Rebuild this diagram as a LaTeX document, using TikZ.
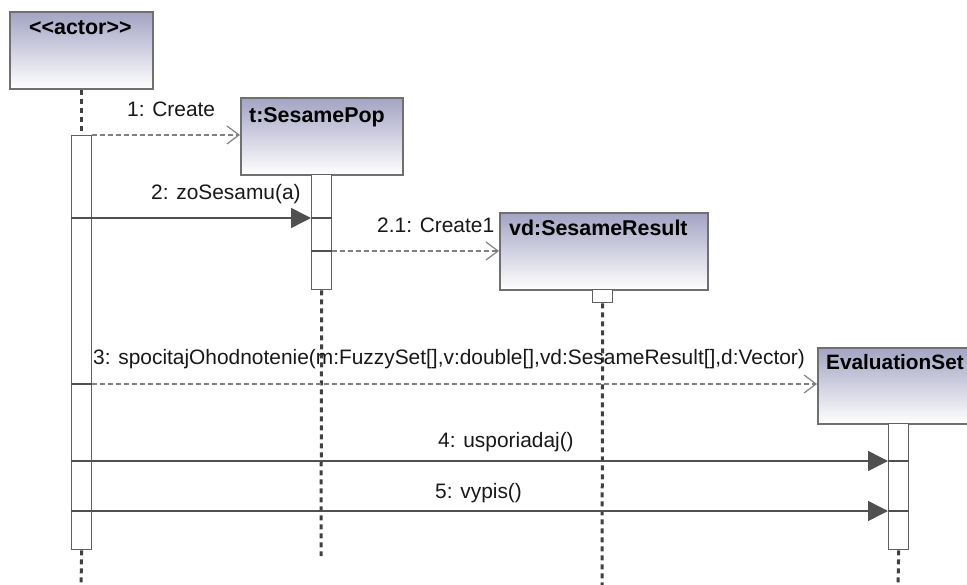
\documentclass[tikz,border=0pt]{standalone}
\usepackage{fontspec}
\setmainfont{Liberation Sans}
\usetikzlibrary{arrows.meta}

\definecolor{boxtop}{RGB}{163,163,196}
\definecolor{boxgray}{RGB}{112,112,112}
\definecolor{bargray}{RGB}{96,96,96}
\definecolor{lifegray}{RGB}{64,64,64}
\definecolor{msggray}{RGB}{80,80,80}
\definecolor{dashgray}{RGB}{128,128,128}
\definecolor{txtgray}{RGB}{24,24,24}

\begin{document}
\begin{tikzpicture}[x=1pt,y=-1pt,
  objbox/.style={draw=boxgray, line width=1.6pt, top color=boxtop, bottom color=white,
                 rectangle, inner sep=0pt, anchor=north west},
  objname/.style={anchor=base west, inner sep=0pt, text=black,
                  font=\fontsize{21.4}{26}\selectfont\bfseries},
  actbar/.style={draw=bargray, line width=1.4pt, fill=white, rectangle, inner sep=0pt,
                 anchor=north west, minimum width=20pt},
  lifeline/.style={draw=lifegray, line width=3pt, dash pattern=on 5pt off 4pt},
  divider/.style={draw=msggray, line width=1.5pt},
  syncmsg/.style={draw=msggray, line width=1.5pt, -{Triangle[length=20pt,width=20pt]}},
  createmsg/.style={draw=dashgray, line width=1.3pt, dash pattern=on 5pt off 3pt,
                    -{Straight Barb[length=12pt,width=18pt,line width=1.2pt]}},
  msglabel/.style={anchor=base west, inner sep=0pt, text=txtgray,
                   font=\fontsize{20.9}{25}\selectfont}]

\useasboundingbox (0,0) rectangle (967,585);
\clip (0,0) rectangle (967,585);

% object boxes
\node[objbox, minimum width=143pt, minimum height=77pt] (actor) at (9,11) {};
\node[objbox, minimum width=162pt, minimum height=77pt] (sp) at (240,97) {};
\node[objbox, minimum width=208pt, minimum height=77pt] (vd) at (499,212) {};
\node[objbox, minimum width=162pt, minimum height=76pt] (ev) at (817,347) {};

% the kerns keep << and >> from turning into guillemets
\node[objname] (actorlbl) at (29,35) {<\kern0pt<actor>\kern0pt>};
\node[objname] (splbl) at (249,123) {t:SesamePop};
\node[objname] (vdlbl) at (509,236) {vd:SesameResult};
\node[objname, font=\fontsize{20.8}{25}\selectfont\bfseries] (evlbl) at (826,370) {EvaluationSet};

% lifeline ends at the bottom
\coordinate (actorend) at (81,585);
\coordinate (spend) at (321,556);
\coordinate (vdend) at (602,585);
\coordinate (evend) at (898,585);

% activation bars
\node[actbar, minimum height=414pt] (abar) at (71,135) {};
\node[actbar, minimum height=115pt] (spbar) at (311,174) {};
\node[actbar, minimum height=13pt] (vdbar) at (592,289) {};
\node[actbar, minimum height=126pt] (evbar) at (888,423) {};

% lifelines
\draw[lifeline] (actor.south -| abar.center) -- (abar.north);
\draw[lifeline] (abar.south) -- (actorend);
\draw[lifeline] (spbar.south) -- (spend);
\draw[lifeline] (vdbar.south) -- (vdend);
\draw[lifeline] (evbar.south) -- (evend);

% redraw bars over the lifelines
\node[actbar, minimum height=414pt] at (71,135) {};
\node[actbar, minimum height=115pt] at (311,174) {};
\node[actbar, minimum height=13pt] at (592,289) {};
\node[actbar, minimum height=126pt] at (888,423) {};

% message rows
\coordinate (y1) at (0,135);
\coordinate (y2) at (0,218);
\coordinate (y21) at (0,251);
\coordinate (y3) at (0,384);
\coordinate (y4) at (0,461);
\coordinate (y5) at (0,511);

% 1: Create
\draw[createmsg] (abar.east |- y1) -- (sp.west |- y1);
\node[msglabel] (m1) at (127,117) {1: Create};

% 2: zoSesamu(a)
\draw[syncmsg] (abar.west |- y2) -- (spbar.west |- y2);
\draw[divider] (spbar.west |- y2) -- (spbar.east |- y2);
\node[msglabel] (m2) at (151,200) {2: zoSesamu(a)};

% 2.1: Create1
\draw[divider] (spbar.west |- y21) -- (spbar.east |- y21);
\draw[createmsg] (spbar.east |- y21) -- (vd.west |- y21);
\node[msglabel] (m21) at (377,233) {2.1: Create1};

% 3: spocitajOhodnotenie(...)
\draw[divider] (abar.west |- y3) -- (abar.east |- y3);
\draw[createmsg] (abar.east |- y3) -- (ev.west |- y3);
\node[msglabel] (m3) at (93,365) {3: spocitajOhodnotenie(m:FuzzySet[],v:double[],vd:SesameResult[],d:Vector)};

% 4: usporiadaj()
\draw[syncmsg] (abar.west |- y4) -- (evbar.west |- y4);
\draw[divider] (evbar.west |- y4) -- (evbar.east |- y4);
\node[msglabel] (m4) at (438,447) {4: usporiadaj()};

% 5: vypis()
\draw[syncmsg] (abar.west |- y5) -- (evbar.west |- y5);
\draw[divider] (evbar.west |- y5) -- (evbar.east |- y5);
\node[msglabel] (m5) at (435,498) {5: vypis()};

\end{tikzpicture}
\end{document}
